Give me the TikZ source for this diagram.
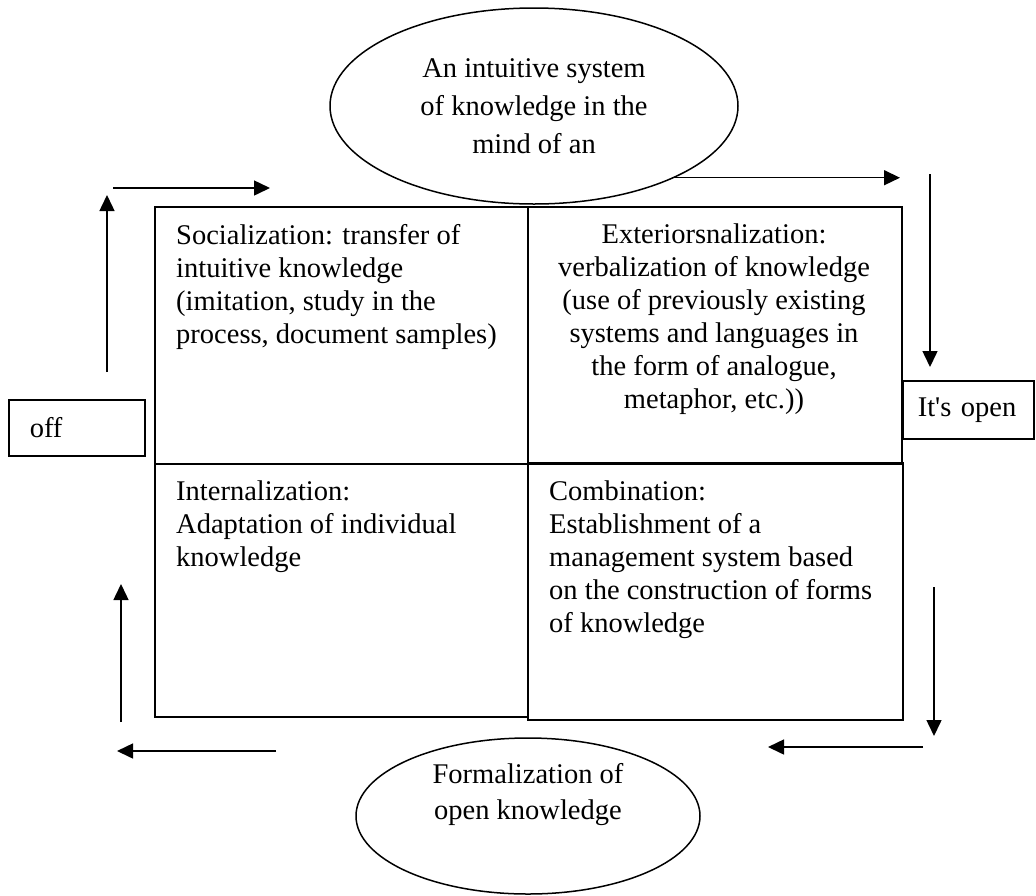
\documentclass[tikz,border=0pt]{standalone}
\usepackage{fontspec}
\setmainfont{Liberation Serif}
\usetikzlibrary{shapes.geometric,arrows.meta}
\tikzset{
  cell/.style={draw, line width=1.6pt, anchor=north west, inner sep=0pt},
  txt/.style={font=\fontsize{28.5}{33}\selectfont, inner sep=0pt},
  oval/.style={ellipse, draw, line width=1.5pt, inner sep=0pt},
  arr/.style={line width=1.5pt, -{Triangle[length=16pt,width=15pt]}},
  tag/.style={draw, line width=1.5pt, anchor=north west, inner ysep=0pt, align=left,
              font=\fontsize{28.5}{33}\selectfont},
}
\begin{document}
\begin{tikzpicture}[x=1pt,y=-1pt]
\useasboundingbox (0,0) rectangle (1036,895);

% four quadrant boxes
\node[cell, minimum width=373pt, minimum height=257pt] (soc) at (154,206) {};
\node[cell, minimum width=374pt, minimum height=257pt] (ext) at (527,206) {};
\node[cell, minimum width=373pt, minimum height=253pt] (int) at (154,463) {};
\node[cell, minimum width=375pt, minimum height=257pt] (com) at (527,462) {};

% texts in boxes
\node[txt, anchor=north west, align=left] (soct) at (176,224)
  {Socialization: transfer of\\intuitive knowledge\\(imitation, study in the\\process, document samples)};
\node[txt, anchor=north, align=center] (extt) at (714,224)
  {Exteriorsnalization:\\verbalization of knowledge\\(use of previously existing\\systems and languages in\\the form of analogue,\\metaphor, etc.))};
\node[txt, anchor=north west, align=left] (intt) at (176,481)
  {Internalization:\\Adaptation of individual\\knowledge};
\node[txt, anchor=north west, align=left] (comt) at (549,481)
  {Combination:\\Establishment of a\\management system based\\on the construction of forms\\of knowledge};

% side labels
\node[tag, minimum width=136pt, minimum height=56pt, text width=94pt, inner xsep=21pt] (off) at (8,399) {off};
\node[tag, minimum width=131pt, minimum height=58pt, text width=101pt, inner xsep=15pt] (open) at (902,380) {It\textquotesingle s open};

% ellipses
\node[oval, minimum width=408pt, minimum height=196pt, align=center,
      font=\fontsize{28.5}{38}\selectfont] (mind) at (534,106)
  {An intuitive system\\of knowledge in the\\mind of an};
\node[oval, minimum width=344pt, minimum height=156pt] (formal) at (528,816) {};
\node[txt, align=center, font=\fontsize{28.5}{36}\selectfont] (formalt) at (528,795)
  {Formalization of\\open knowledge};

% arrow end points
\coordinate (a1s) at (107,372); \coordinate (a1e) at (107,195);
\coordinate (a2s) at (113,188); \coordinate (a2e) at (270,188);
\coordinate (a3e) at (900,177);
\coordinate (a4s) at (930,174); \coordinate (a4e) at (930,367);
\coordinate (a5s) at (934,587); \coordinate (a5e) at (934,736);
\coordinate (a6s) at (923,747); \coordinate (a6e) at (768,747);
\coordinate (a7s) at (276,751); \coordinate (a7e) at (117,751);
\coordinate (a8s) at (121,722); \coordinate (a8e) at (121,584);

\draw[arr] (a1s) -- (a1e);
\draw[arr] (a2s) -- (a2e);
\draw[arr] (mind.-27) -- (mind.-27 -| a3e);
\draw[arr] (a4s) -- (a4e);
\draw[arr] (a5s) -- (a5e);
\draw[arr] (a6s) -- (a6e);
\draw[arr] (a7s) -- (a7e);
\draw[arr] (a8s) -- (a8e);
\end{tikzpicture}
\end{document}
